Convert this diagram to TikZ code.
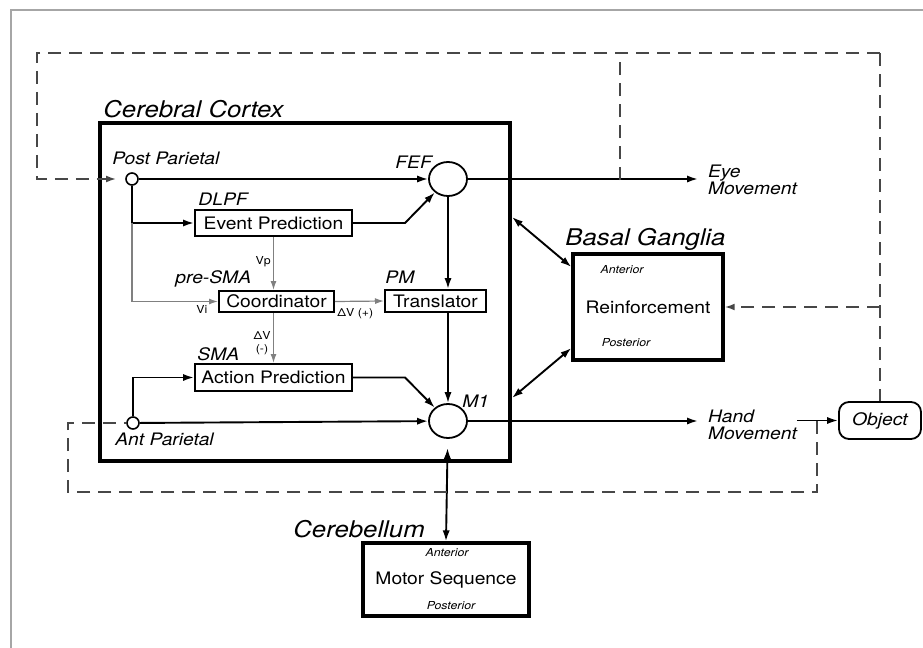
\documentclass[tikz,border=0pt]{standalone}
\usepackage{fontspec}
\setmainfont{TeX Gyre Heros}[FakeStretch=1.12]
\usetikzlibrary{arrows.meta,shapes.geometric}

\begin{document}
\begin{tikzpicture}[%
      x=0.5pt, y=-0.5pt,
      arr/.style={-{Latex[length=5.5pt,width=3.6pt]}},
      conn/.style={line width=0.95pt, arr},
      bidir/.style={line width=0.95pt, {Latex[length=5.5pt,width=3.6pt]}-{Latex[length=5.5pt,width=3.6pt]}},
      sig/.style={color=gray, line width=0.6pt, -{Latex[length=4.5pt,width=3pt]}},
      fb/.style={color=black!72, line width=0.9pt, dash pattern=on 6.5pt off 4pt},
      fbarr/.style={fb, -{Latex[length=5pt,width=3.4pt]}},
      box/.style={draw, line width=1pt, inner sep=0pt, font=\fontsize{8.6}{9}\selectfont},
      region/.style={draw, line width=1.6pt, inner sep=0pt, font=\fontsize{8.6}{9}\selectfont},
      circ/.style={draw, circle, line width=0.8pt, minimum size=6pt, inner sep=0pt},
      hub/.style={draw, ellipse, line width=0.9pt, minimum width=19pt, minimum height=17pt, inner sep=0pt},
      lbl/.style={inner sep=0pt, font=\fontsize{8.6}{8.5}\selectfont\itshape},
      big/.style={inner sep=0pt, font=\fontsize{11.5}{12}\selectfont\itshape},
      tag/.style={inner sep=0pt, font=\fontsize{5.5}{6.5}\selectfont},
      ]
      \useasboundingbox (0,0) rectangle (923,648);
      \draw [color=gray!70, line width=1pt] (11,648) -- (11,10) -- (923,10);

      % cortex
      \node [draw, line width=2pt, minimum width=205pt, minimum height=169pt, inner sep=0pt] (cortex) at (305,292) {};
      \node [big, anchor=base west] (cortexlbl) at (103,117) {Cerebral Cortex};

      \node [circ] (pp) at (132,179) {};
      \node [circ] (ap) at (133,423) {};
      \node [hub] (fef) at (448,179) {};
      \node [hub] (mone) at (448,421) {};

      \node [box, minimum width=78.5pt, minimum height=13pt] (evpred) at (273.5,223) {Event Prediction};
      \node [box, minimum width=57.5pt, minimum height=10.5pt] (coord) at (276.5,301.5) {Coordinator};
      \node [box, minimum width=50.5pt, minimum height=11pt] (trans) at (435.5,301) {Translator};
      \node [box, minimum width=78.5pt, minimum height=13.5pt] (actpred) at (273.5,377.5) {Action Prediction};

      \node [lbl, anchor=base west] (pplbl) at (112,164) {Post Parietal};
      \node [lbl, anchor=base west] (aplbl) at (115,445) {Ant Parietal};
      \node [lbl, anchor=base west] (feflbl) at (395,168) {FEF};
      \node [lbl, anchor=base west] (monelbl) at (462,407) {M1};
      \node [lbl, anchor=base west] (dlpflbl) at (198,205) {DLPF};
      \node [lbl, anchor=base west] (presmalbl) at (175,283) {pre-SMA};
      \node [lbl, anchor=base west] (pmlbl) at (385,283) {PM};
      \node [lbl, anchor=base west] (smalbl) at (197,360) {SMA};

      \node [tag, anchor=base east] (vp) at (271,264) {Vp};
      \node [tag, anchor=base west] (vi) at (196,313) {Vi};
      \node [tag, anchor=base west] (dvplus) at (337,316) {ΔV (+)};
      \node [tag, align=center] (dvminus) at (262,343) {ΔV\\(-)};

      % basal ganglia and cerebellum
      \node [region, minimum width=75pt, minimum height=53pt] (bg) at (648,307) {Reinforcement};
      \node [big, anchor=base west] (bglbl) at (565,245) {Basal Ganglia};
      \node [tag, font=\fontsize{5.5}{6.5}\selectfont\itshape] (bgant) at (622,270) {Anterior};
      \node [tag, font=\fontsize{5.5}{6.5}\selectfont\itshape] (bgpost) at (626,343) {Posterior};

      \node [region, minimum width=83pt, minimum height=36.5pt] (cereb) at (446,579.5) {Motor Sequence};
      \node [big, anchor=base west] (cereblbl) at (293,537) {Cerebellum};
      \node [tag, font=\fontsize{5.5}{6.5}\selectfont\itshape] (cbant) at (447,553) {Anterior};
      \node [tag, font=\fontsize{5.5}{6.5}\selectfont\itshape] (cbpost) at (451,606) {Posterior};

      % outputs
      \node [lbl, align=left, anchor=west, outer sep=5pt] (eye) at (698,180) {Eye\\Movement};
      \node [lbl, align=left, anchor=west, outer sep=5pt] (hand) at (698,425) {Hand\\Movement};
      \node [draw, rounded corners=5pt, line width=0.9pt, minimum width=41pt, minimum height=18.5pt, inner sep=0pt, font=\fontsize{8.6}{9}\selectfont\itshape] (object) at (880,420.5) {Object};

      \coordinate (tl) at (37,53);
      \coordinate (tr) at (880,53);
      \coordinate (bl) at (68,492);
      \coordinate (eyej) at (620,180);
      \coordinate (handj) at (817,421);

      % solid connections
      \draw [conn] (pp) -- (fef);
      \draw [conn] (pp) |- (evpred.west);
      \draw [conn] (evpred.east) -- ++(26pt,0) -- (fef);
      \draw [conn] (fef) -- (fef |- trans.north);
      \draw [conn] (mone |- trans.south) -- (mone);
      \draw [conn] (ap) |- (actpred.west);
      \draw [conn] (ap) -- (mone);
      \draw [conn] (actpred.east) -- ++(26pt,0) -- (mone);
      \draw [conn] (fef) -- (fef -| eye.west);
      \draw [conn] (mone) -- (mone -| hand.west);
      \draw [conn] ([xshift=-5pt]hand.east |- object.west) -- (object.west);

      \draw [sig] (pp |- evpred.west) |- (coord.west);
      \draw [sig] (evpred.south) -- (evpred.south |- coord.north);
      \draw [sig] (coord.east) -- (trans.west);
      \draw [sig] (evpred.south |- coord.south) -- (evpred.south |- actpred.north);

      \draw [bidir] ([yshift=37.5pt]cortex.east) -- ([yshift=20pt]bg.west);
      \draw [bidir] ([yshift=-53pt]cortex.east) -- ([yshift=-20.5pt]bg.west);
      \draw [bidir, shorten <=4.5pt] (mone) -- (cereb.north);

      % feedback loops
      \draw [fbarr, shorten >=4.5pt] (tr) -- (tl) |- (pp);
      \draw [fb] (eyej) -- (eyej |- tl);
      \draw [fb] (tr) -- (object.north);
      \draw [fbarr] (tr |- bg.east) -- (bg.east);
      \draw [fb] (handj) |- (bl) |- (ap);
\end{tikzpicture}
\end{document}
